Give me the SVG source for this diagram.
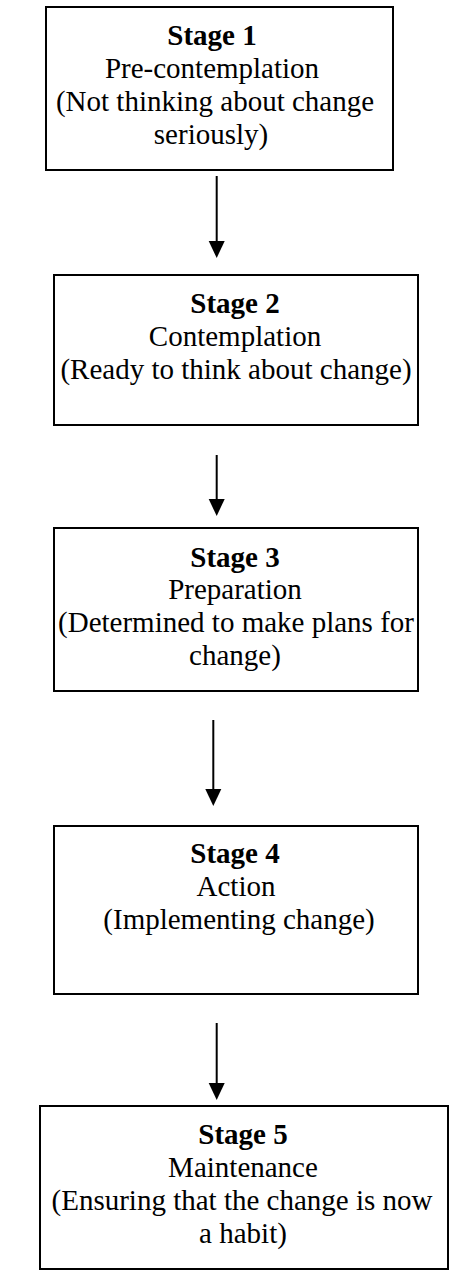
<svg xmlns="http://www.w3.org/2000/svg" width="449" height="1271" viewBox="0 0 449 1271">
<style>
.box{fill:#fff;stroke:#000;stroke-width:2}
text{font-family:"Liberation Serif","Times New Roman",serif;font-size:29px;fill:#000;text-anchor:middle}
.b{font-weight:bold}
.c{stroke:#000;stroke-width:2;fill:none}
.h{fill:#000}
</style>
<rect width="449" height="1271" fill="#fff"/>
<g id="stage1">
<rect class="box" x="46" y="7" width="347" height="163"/>
<text class="b" x="212" y="45">Stage 1</text>
<text x="212" y="78">Pre-contemplation</text>
<text x="215" y="111">(Not thinking about change</text>
<text x="211" y="144">seriously)</text>
</g>
<g id="stage2">
<rect class="box" x="54" y="275" width="364" height="150"/>
<text class="b" x="235" y="313">Stage 2</text>
<text x="235" y="346">Contemplation</text>
<text x="236" y="379">(Ready to think about change)</text>
</g>
<g id="stage3">
<rect class="box" x="54" y="528" width="364" height="163"/>
<text class="b" x="235" y="567">Stage 3</text>
<text x="235" y="599">Preparation</text>
<text x="236" y="632">(Determined to make plans for</text>
<text x="235" y="665">change)</text>
</g>
<g id="stage4">
<rect class="box" x="54" y="826" width="364" height="168"/>
<text class="b" x="235" y="863">Stage 4</text>
<text x="236" y="896">Action</text>
<text x="239" y="929">(Implementing change)</text>
</g>
<g id="stage5">
<rect class="box" x="40" y="1106" width="408" height="163"/>
<text class="b" x="243" y="1144">Stage 5</text>
<text x="243" y="1177">Maintenance</text>
<text x="242" y="1210">(Ensuring that the change is now</text>
<text x="243" y="1243">a habit)</text>
</g>
<g id="connectors">
<line class="c" x1="216.7" y1="176" x2="216.7" y2="242"/>
<path class="h" d="M208.7,241 L224.7,241 L216.7,258 Z"/>
<line class="c" x1="216.7" y1="455" x2="216.7" y2="500"/>
<path class="h" d="M208.7,499 L224.7,499 L216.7,516 Z"/>
<line class="c" x1="213.3" y1="720" x2="213.3" y2="790"/>
<path class="h" d="M205.3,789 L221.3,789 L213.3,806 Z"/>
<line class="c" x1="216.7" y1="1023" x2="216.7" y2="1084"/>
<path class="h" d="M208.7,1083 L224.7,1083 L216.7,1100 Z"/>
</g>
</svg>
